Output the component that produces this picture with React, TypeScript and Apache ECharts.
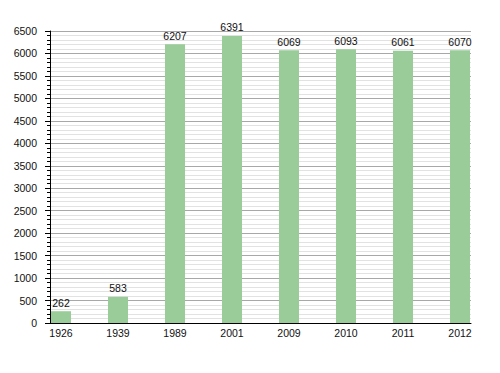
import React, { useEffect, useRef } from "react";
import * as echarts from "echarts";

const years = ["1926", "1939", "1989", "2001", "2009", "2010", "2011", "2012"];
const population = [262, 583, 6207, 6391, 6069, 6093, 6061, 6070];
const yMin = 0;
const yMax = 6500;
const yStep = 500;

export default function App() {
  const ref = useRef<HTMLDivElement>(null);
  useEffect(() => {
    if (!ref.current) return;
    const chart = echarts.init(ref.current, undefined, { renderer: "svg" });
    const font = "'Liberation Sans', Arial, sans-serif";
    chart.setOption({
      animation: false,
      backgroundColor: "#ffffff",
      textStyle: { fontFamily: font },
      grid: [
        { left: 50, right: 29, top: 31, bottom: 50, containLabel: false },
        { left: 61, right: 40, top: 31, bottom: 50, containLabel: false },
      ],
      xAxis: [
        {
          type: "value",
          gridIndex: 0,
          min: 0,
          max: 1,
          axisLine: { show: true, lineStyle: { color: "#000", width: 1 } },
          axisTick: { show: false },
          axisLabel: { show: false },
          splitLine: { show: false },
        },
        {
          type: "category",
          gridIndex: 1,
          data: years,
          boundaryGap: false,
          axisLine: { show: false },
          axisTick: { show: false },
          axisLabel: { margin: 4, color: "#111", fontSize: 10.5, fontFamily: font },
          splitLine: { show: false },
        },
      ],
      yAxis: [
        {
          type: "value",
          gridIndex: 0,
          min: yMin,
          max: yMax,
          interval: yStep,
          axisLine: { show: true, lineStyle: { color: "#000", width: 1 } },
          axisTick: { show: true, length: 5, lineStyle: { color: "#000" } },
          minorTick: { show: true, splitNumber: 5, length: 3, lineStyle: { color: "#000" } },
          axisLabel: {
            margin: 13,
            color: "#111",
            fontSize: 10.5,
            fontFamily: font,
            formatter: (v: number) => String(v),
          },
          splitLine: { show: true, lineStyle: { color: "#a8a8a8", width: 1 } },
          minorSplitLine: { show: true, lineStyle: { color: "#e2e2e2", width: 1 } },
        },
        {
          type: "value",
          gridIndex: 1,
          min: yMin,
          max: yMax,
          interval: yStep,
          show: false,
          splitLine: { show: false },
        },
      ],
      series: [
        {
          type: "bar",
          xAxisIndex: 1,
          yAxisIndex: 1,
          data: population,
          barWidth: 20,
          itemStyle: { color: "#99cc99" },
          label: {
            show: true,
            position: "top",
            distance: 3,
            color: "#111",
            fontSize: 10.5,
            fontFamily: font,
          },
        },
      ],
    });
    return () => chart.dispose();
  }, []);
  return (
    <div
      ref={ref}
      style={{ position: "absolute", left: 0, top: 0, width: 500, height: 373 }}
    />
  );
}
